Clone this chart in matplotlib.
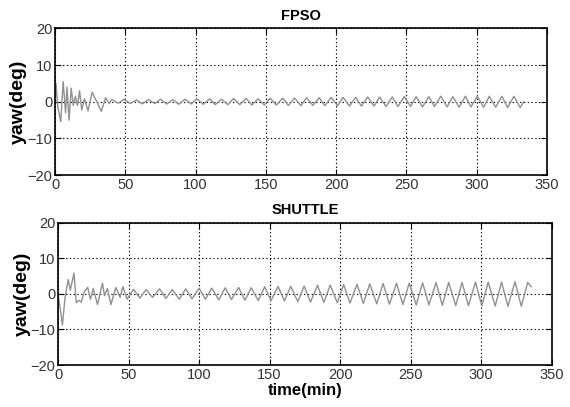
import matplotlib.pyplot as plt

plt.rcParams['font.family'] = ['Liberation Sans', 'DejaVu Sans']

# FPSO yaw: turning points
fpso_t = [0, 0.7, 2.0, 4.1, 5.8, 7.5, 8.5, 10.0, 11.5, 13.0, 14.5, 16.0, 17.5, 19.0,
          21.0, 23.5, 26.4, 29.5, 33.0, 36.0, 38.5,
          40.5, 45, 49, 53.5, 58, 62, 66.5, 71, 75, 79.5, 84, 88, 92.5, 97, 101,
          105.5, 110, 114, 118.5, 123, 127, 131.5, 136, 140, 144.5, 149, 153,
          157.5, 162, 166, 170.5, 175, 179, 183.5, 188, 192, 196.5, 201, 205,
          209.5, 214, 218, 222.5, 227, 231, 235.5, 240, 244, 248.5, 253, 257,
          261.5, 266, 270, 274.5, 279, 283, 287.5, 292, 296, 300.5, 305, 309,
          313.5, 318, 322, 326.5, 331, 333.5]
fpso_yaw = [0, 5.0, -1.5, -5.4, 5.5, -3.0, 4.0, -5.0, 3.7, -1.0, 1.5, -1.0, 3.0, -2.3,
            0.8, -2.5, 2.6, 0.2, -2.6, 1.1, -0.5,
            0.6, -0.4, 0.7, -0.5, 0.5, -0.6, 0.6, -0.5, 0.7, -0.6, 0.6, -0.7, 0.7, -0.6, 0.8,
            -0.7, 0.8, -0.8, 0.7, -0.8, 0.9, -0.8, 0.9, -0.9, 0.8, -0.9, 1.0,
            -0.9, 1.0, -1.0, 1.0, -1.1, 1.1, -1.0, 1.1, -1.1, 1.2, -1.1, 1.2,
            -1.2, 1.2, -1.2, 1.3, -1.2, 1.3, -1.3, 1.3, -1.3, 1.4, -1.3, 1.4,
            -1.4, 1.4, -1.3, 1.5, -1.4, 1.4, -1.5, 1.5, -1.4, 1.5, -1.5, 1.5,
            -1.5, 1.5, -1.6, 1.5, -1.6, 0.0]

# SHUTTLE yaw: turning points
shuttle_t = [0, 1.5, 3.1, 5.0, 7.2, 8.7, 11.3, 13.0, 15.0, 16.5, 18.5, 21.0, 23.0,
             25.0, 28.0, 31.5, 33.0, 35.0, 37.5, 41.0, 44.0, 46.0, 49.0,
             53.5, 58, 62.5, 67, 72, 76.5, 81, 86, 90.5, 95, 100, 104.5, 109, 114,
             118.5, 123, 128, 132.5, 137, 142, 146.5, 151, 156, 160.5, 165, 170,
             174.5, 179, 184, 188.5, 193, 198, 202.5, 207, 212, 216.5, 221, 226,
             230.5, 235, 240, 244.5, 249, 254, 258.5, 263, 268, 272.5, 277, 282,
             286.5, 291, 296, 300.5, 305, 310, 314.5, 319, 324, 328.5, 333, 335.5]
shuttle_yaw = [0, -4.0, -8.7, -1.0, 4.0, 1.0, 5.8, -2.5, -1.8, -2.3, 0.5, 1.8, -1.5,
               1.5, -3.0, 3.0, -0.5, 1.5, -3.0, 1.8, -1.0, 2.0, -1.5,
               1.3, -1.2, 1.2, -1.0, 1.4, -1.3, 1.2, -1.5, 1.4, -1.4, 1.6, -1.5, 1.6, -1.7,
               1.7, -1.6, 1.8, -1.8, 1.7, -1.9, 2.0, -1.9, 2.1, -2.0, 2.1, -2.2,
               2.2, -2.3, 2.4, -2.4, 2.5, -2.5, 2.6, -2.6, 2.7, -2.7, 2.8, -2.8,
               2.9, -2.9, 3.0, -3.0, 3.0, -3.1, 3.1, -3.1, 3.2, -3.2, 3.2, -3.3,
               3.2, -3.3, 3.3, -3.4, 3.3, -3.4, 3.3, -3.5, 3.4, -3.5, 3.2, 2.0]

x_ticks = [0, 50, 100, 150, 200, 250, 300, 350]
y_ticks = [-20, -10, 0, 10, 20]

fig = plt.figure(figsize=(5.7, 4.07), dpi=100)
ax1 = fig.add_axes([0.0965, 0.570, 0.863, 0.360])
ax2 = fig.add_axes([0.1018, 0.103, 0.866, 0.350])

for ax, t, y, title in [(ax1, fpso_t, fpso_yaw, 'FPSO'),
                        (ax2, shuttle_t, shuttle_yaw, 'SHUTTLE')]:
    ax.plot(t, y, color='#909090', linewidth=1.0)
    ax.set_xlim(0, 350)
    ax.set_ylim(-20, 20)
    ax.set_xticks(x_ticks)
    ax.set_yticks(y_ticks)
    ax.grid(True, color='black', linestyle=(0, (1.2, 2.2)), linewidth=0.8)
    ax.tick_params(direction='in', top=True, right=True, length=4,
                   labelsize=10.5, labelcolor='#333333', pad=2)
    for s in ax.spines.values():
        s.set_linewidth(1.2)
    ax.set_title(title, fontsize=10.5, fontweight='bold', pad=6)
    ax.set_ylabel('yaw(deg)', fontsize=14, fontweight='bold', labelpad=0)

ax2.set_xlabel('time(min)', fontsize=12, fontweight='bold', labelpad=1)

fig.savefig('out.png', dpi=100)
